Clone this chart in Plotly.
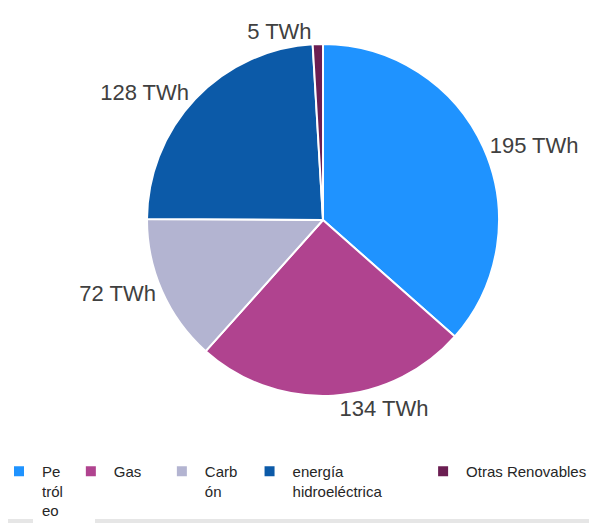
import plotly.graph_objects as go

# energía por fuente (TWh)
fuentes = ['Pe<br>tról<br>eo', 'Gas' + '&nbsp;' * 3, 'Carb&nbsp;<br>ón',
           'energía<br>hidroeléctrica' + '&nbsp;' * 8, 'Otras Renovables']
valores = [195, 134, 72, 128, 5]
colores = ['#1f93ff', '#b0438f', '#b3b4d1', '#0c5aa8', '#6b1e52']

W, H = 597, 523
PH = 433  # alto del área de trazado (px)

fig = go.Figure(go.Pie(
    labels=fuentes, values=valores, sort=False, direction='clockwise', rotation=0,
    marker=dict(colors=colores, line=dict(color='white', width=2)),
    texttemplate='%{value} TWh', textposition='outside',
    textfont=dict(size=22, color='#404040', family='Liberation Sans, Arial'),
    domain=dict(x=[139 / W, 491 / W], y=[45 / PH, 397 / PH]),
    hoverinfo='value',
))

fig.update_layout(
    width=W, height=H, margin=dict(l=0, r=0, t=0, b=H - PH, autoexpand=False),
    paper_bgcolor='white',
    font=dict(family='Liberation Sans, Arial', color='#404040'),
    legend=dict(orientation='h', x=-12 / W, xanchor='left', y=(PH - 447) / PH, yanchor='top',
                font=dict(size=15, color='#262626'), itemclick=False, itemwidth=36,
                bgcolor='rgba(0,0,0,0)', valign='top', tracegroupgap=0),
    shapes=[
        dict(type='rect', xref='paper', yref='paper', x0=0, x1=25 / W,
             y0=(PH - H) / PH, y1=(PH - 511) / PH,
             fillcolor='#e6e6e6', line_width=0, layer='below'),
        dict(type='rect', xref='paper', yref='paper', x0=87 / W, x1=1,
             y0=(PH - H) / PH, y1=(PH - 511) / PH,
             fillcolor='#e6e6e6', line_width=0, layer='below'),
    ],
)

fig.write_html('out.html')
